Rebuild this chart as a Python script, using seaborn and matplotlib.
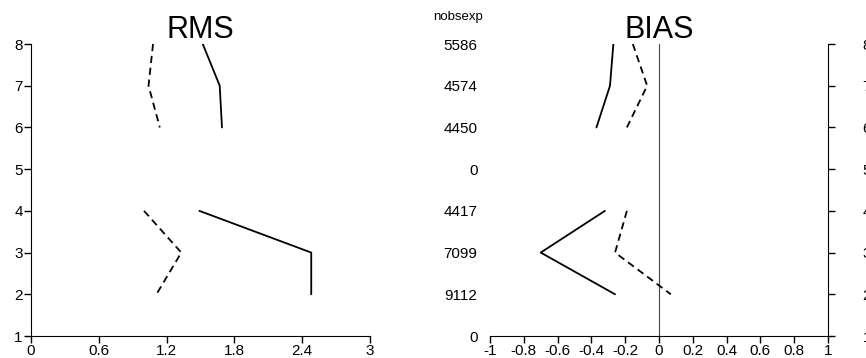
import numpy as np
import pandas as pd
import matplotlib
matplotlib.use("Agg")
import matplotlib.pyplot as plt
import seaborn as sns

sns.set_style("white")
plt.rcParams['font.family'] = ['Liberation Sans', 'DejaVu Sans']
plt.rcParams['text.color'] = 'black'
plt.rcParams['xtick.color'] = 'black'
plt.rcParams['ytick.color'] = 'black'
plt.rcParams['axes.edgecolor'] = 'black'

# ---------------- DATA ----------------
levels = [8, 7, 6, 5, 4, 3, 2]
nobs_labels = ["5586", "4574", "4450", "0", "4417", "7099", "9112", "0"]  # for y = 8..1
rms_ctl = [1.52, 1.67, 1.69, np.nan, 1.49, 2.48, 2.48]
rms_exp = [1.08, 1.04, 1.14, np.nan, 1.00, 1.33, 1.11]
bias_ctl = [-0.27, -0.29, -0.37, np.nan, -0.32, -0.70, -0.26]
bias_exp = [-0.155, -0.07, -0.19, np.nan, -0.19, -0.26, 0.07]


def to_frame(ctl, exp):
    """Long frame, one unit per unbroken segment (NaN splits lines)."""
    rows = []
    for name, vals in (("ctl", ctl), ("exp", exp)):
        seg = 0
        for lev, v in zip(levels, vals):
            if np.isnan(v):
                seg += 1
                continue
            rows.append((lev, v, name, f"{name}{seg}"))
    return pd.DataFrame(rows, columns=["level", "value", "run", "seg"])


rms_df = to_frame(rms_ctl, rms_exp)
bias_df = to_frame(bias_ctl, bias_exp)

W, H = 866, 358
fig = plt.figure(figsize=(W / 100, H / 100), dpi=100)

ax1 = fig.add_axes([31 / W, 22 / H, 339 / W, 292 / H])
ax2 = fig.add_axes([490 / W, 22 / H, 338 / W, 292 / H])

dash_map = {"ctl": "", "exp": (4, 2.6)}
tick_fs = 11

# ---------------- RMS ----------------
sns.lineplot(data=rms_df, x="value", y="level", style="run", units="seg",
             estimator=None, sort=False, color="black", dashes=dash_map,
             linewidth=1.3, legend=False, ax=ax1)
ax1.set_xlim(0, 3)
ax1.set_ylim(1, 8)
ax1.set_xticks([0, 0.6, 1.2, 1.8, 2.4, 3])
ax1.set_xticklabels(["0", "0.6", "1.2", "1.8", "2.4", "3"])
ax1.set_yticks(range(1, 9))
ax1.set_xlabel("")
ax1.set_ylabel("")
for s in ("top", "right"):
    ax1.spines[s].set_visible(False)
ax1.tick_params(direction="out", length=5, width=1, labelsize=tick_fs,
                left=True, bottom=True, pad=1)
ax1.set_title("RMS", fontsize=22, y=1.0, pad=4)

# ---------------- BIAS ----------------
ax2.axvline(0, color="#444444", linewidth=0.8)
sns.lineplot(data=bias_df, x="value", y="level", style="run", units="seg",
             estimator=None, sort=False, color="black", dashes=dash_map,
             linewidth=1.3, legend=False, ax=ax2)
ax2.set_xlim(-1, 1)
ax2.set_ylim(1, 8)
ax2.set_xticks(np.round(np.arange(-1, 1.01, 0.2), 1))
ax2.set_xticklabels(["-1", "-0.8", "-0.6", "-0.4", "-0.2", "0",
                     "0.2", "0.4", "0.6", "0.8", "1"])
ax2.set_yticks(range(8, 0, -1))
ax2.set_yticklabels(nobs_labels)
ax2.set_xlabel("")
ax2.set_ylabel("")
ax2.set_title("BIAS", fontsize=22, y=1.0, pad=4)

ax3 = ax2.twinx()
ax3.set_ylim(1, 8)
ax3.set_yticks(range(1, 9))
for s in ("top", "left", "bottom"):
    ax3.spines[s].set_visible(False)
ax3.tick_params(axis="y", direction="out", length=5, width=1,
                labelsize=tick_fs, left=False, right=True, pad=20)

# twinx re-enables the left ticks on ax2, so style ax2 afterwards
for s in ("top", "left", "right"):
    ax2.spines[s].set_visible(False)
ax2.tick_params(axis="x", direction="out", length=5, width=1,
                labelsize=tick_fs, bottom=True, pad=1)
ax2.tick_params(axis="y", left=False, right=False, length=0,
                labelsize=tick_fs, pad=9)

fig.text(458 / W, 1 - 17 / H, "nobsexp", fontsize=9.5, ha="center", va="center")

fig.savefig("out.png", dpi=100)
